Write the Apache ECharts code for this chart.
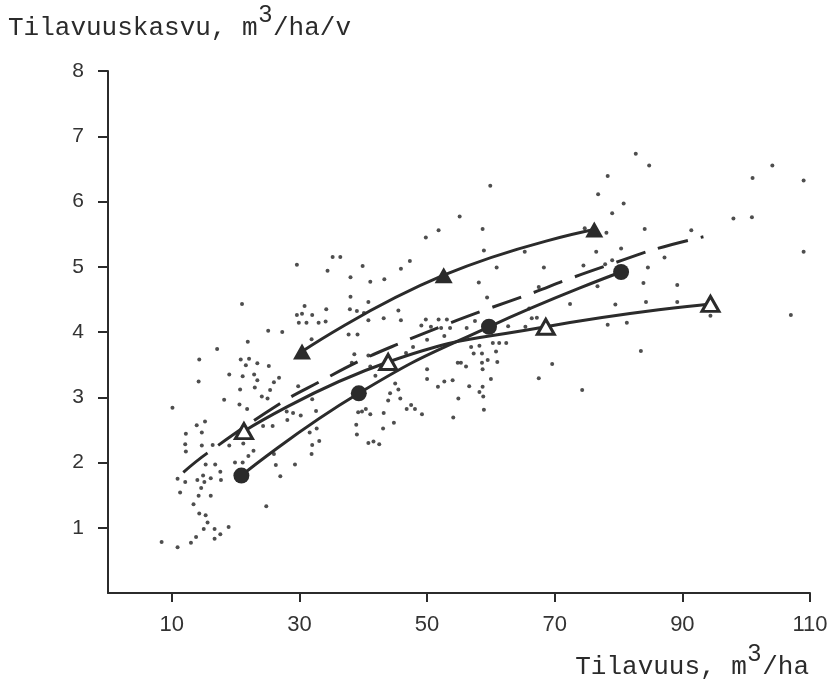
<!DOCTYPE html>
<html>
<head>
<meta charset="utf-8">
<script src="https://cdn.jsdelivr.net/npm/echarts@6/dist/echarts.min.js"></script>
<style>
  html, body { margin: 0; padding: 0; background: #ffffff; }
  #chart { width: 834px; height: 685px; }
</style>
</head>
<body>
<div id="chart"></div>
<script>
// Stand volume (m3/ha) and volume growth (m3/ha/year) of the sample plots
const plotVolume = [
  8.4, 10.9, 13.0, 13.8, 15.0, 16.7, 16.7, 17.6, 18.9, 15.6, 14.3, 15.3, 13.4, 24.8, 14.2, 16.1,
  11.3, 14.6, 15.1, 10.9, 12.1, 14.0, 14.9, 16.1, 17.7, 27.0, 17.6, 15.3, 16.8, 19.9, 21.1, 26.3,
  29.3, 26.0, 22.0, 22.8, 12.1, 12.2, 14.7, 16.4, 19.0, 21.2, 12.2, 14.7, 13.9, 15.2, 24.3, 25.8,
  28.1, 28.0, 29.0, 10.1, 20.6, 21.8, 18.2, 24.1, 25.0, 20.7, 23.0, 25.4, 26.0, 26.8, 14.2, 19.0,
  21.1, 22.9, 23.4, 14.3, 20.8, 22.1, 21.6, 23.4, 25.2, 17.1, 21.9, 25.1, 27.3, 21.0, 29.6, 29.8,
  32.0, 30.2, 32.6, 31.6, 32.7, 32.0, 33.1, 31.9, 31.9, 29.6, 30.4, 32.0, 29.9, 31.1, 33.0, 30.8,
  34.2, 34.1, 34.4, 35.2, 36.4, 39.9, 38.0, 41.1, 43.3, 38.0, 40.8, 37.9, 39.0, 40.1, 45.5, 45.9,
  43.2, 40.8, 37.7, 39.1, 38.6, 40.8, 38.2, 41.1, 41.9, 38.9, 39.0, 43.1, 44.8, 39.2, 39.8, 40.4,
  41.1, 43.2, 40.8, 41.6, 42.5, 45.0, 45.5, 44.2, 43.9, 45.8, 47.5, 46.8, 48.1, 49.2, 54.1, 58.9,
  46.7, 47.8, 50.0, 50.0, 50.0, 51.7, 52.7, 54.0, 54.9, 56.6, 58.7, 60.0, 58.2, 58.8, 54.8, 55.3,
  56.1, 58.6, 59.5, 61.0, 58.7, 56.9, 58.2, 60.3, 61.3, 62.4, 57.3, 58.6, 60.8, 52.7, 49.1, 49.8,
  50.6, 51.8, 53.1, 52.2, 53.6, 56.2, 57.5, 62.7, 65.4, 66.4, 67.2, 66.0, 67.5, 59.4, 58.1, 60.9,
  68.3, 58.9, 65.3, 47.3, 45.9, 49.8, 51.8, 58.7, 55.1, 59.9, 72.4, 69.6, 67.5, 74.3, 82.7, 84.8,
  78.3, 76.8, 80.8, 79.0, 74.7, 78.1, 84.1, 91.4, 76.5, 80.4, 79.0, 74.5, 77.9, 87.2, 84.6, 76.7,
  83.9, 89.2, 79.5, 84.3, 89.2, 78.3, 81.3, 94.4, 83.5, 101.0, 104.1, 109.0, 98.0, 100.9, 109.0, 107.0
];
const plotGrowth = [
  0.78, 0.70, 0.77, 0.86, 0.98, 0.98, 0.83, 0.90, 1.01, 1.08, 1.22, 1.19, 1.36, 1.33, 1.49, 1.49,
  1.54, 1.61, 1.70, 1.75, 1.70, 1.73, 1.80, 1.76, 1.73, 1.79, 1.86, 1.97, 1.97, 2.00, 2.00, 1.96,
  1.97, 2.13, 2.10, 2.18, 2.28, 2.17, 2.26, 2.27, 2.26, 2.29, 2.44, 2.46, 2.57, 2.63, 2.56, 2.56,
  2.65, 2.78, 2.76, 2.84, 2.89, 2.82, 2.96, 3.01, 2.98, 3.12, 3.15, 3.11, 3.23, 3.30, 3.24, 3.35,
  3.32, 3.35, 3.26, 3.58, 3.58, 3.59, 3.49, 3.52, 3.48, 3.74, 3.85, 4.02, 4.00, 4.43, 5.03, 3.17,
  2.97, 2.72, 2.79, 2.46, 2.52, 2.27, 2.33, 2.13, 3.89, 4.26, 4.28, 4.26, 4.14, 4.14, 4.14, 4.40,
  4.35, 4.16, 4.94, 5.15, 5.15, 5.01, 4.84, 4.77, 4.81, 4.54, 4.46, 4.35, 4.32, 4.29, 4.33, 4.18,
  4.21, 4.18, 3.96, 3.96, 3.66, 3.64, 3.53, 3.47, 3.33, 2.58, 2.43, 2.52, 2.61, 2.77, 2.78, 2.82,
  2.74, 2.76, 2.30, 2.32, 2.28, 3.21, 3.12, 3.06, 2.95, 2.98, 2.88, 2.82, 2.82, 2.74, 2.69, 2.81,
  3.68, 3.77, 3.88, 3.43, 3.28, 3.16, 3.24, 3.26, 2.98, 3.17, 3.16, 3.28, 3.08, 3.01, 3.53, 3.53,
  3.47, 3.53, 3.57, 3.54, 3.43, 3.77, 3.79, 3.83, 3.83, 3.83, 3.67, 3.67, 3.70, 3.94, 4.10, 4.19,
  4.08, 4.19, 4.19, 4.06, 4.06, 4.06, 4.17, 4.09, 4.08, 4.21, 4.22, 4.36, 4.69, 4.53, 4.76, 4.99,
  4.99, 5.25, 5.23, 5.09, 4.97, 5.45, 5.56, 5.58, 5.77, 6.24, 4.43, 3.51, 3.29, 3.11, 6.73, 6.55,
  6.39, 6.11, 5.97, 5.82, 5.59, 5.52, 5.58, 5.56, 5.23, 5.28, 5.10, 5.02, 5.04, 5.14, 4.99, 4.70,
  4.75, 4.72, 4.42, 4.46, 4.46, 4.11, 4.14, 4.25, 3.71, 6.36, 6.55, 6.32, 5.74, 5.76, 5.23, 4.26
];

// Growth curves (volume, growth) at the marked points
const curveFilledTriangleX = [30.4, 52.6, 76.2];
const curveFilledTriangleY = [3.70, 4.87, 5.57];
const curveCircleX = [20.9, 39.3, 59.7, 80.4];
const curveCircleY = [1.80, 3.06, 4.08, 4.92];
const curveOpenTriangleX = [21.3, 43.9, 68.6, 94.4];
const curveOpenTriangleY = [2.48, 3.54, 4.08, 4.43];

// Dashed regression curve read along its length
const regressionX = [11.8, 15.5, 27.2, 33.2, 39.5, 45.8, 52.6, 59.4, 66.3, 72.4, 79.1, 86.1, 93.3];
const regressionY = [1.85, 2.14, 2.92, 3.24, 3.56, 3.83, 4.10, 4.35, 4.59, 4.82, 5.05, 5.28, 5.46];

// Axis tick labels
const xTicks = [10, 30, 50, 70, 90, 110];
const yTicks = [1, 2, 3, 4, 5, 6, 7, 8];

const zip = (xs, ys) => xs.map((x, i) => [x, ys[i]]);

const ink = '#2b2b2b';
const titleFont = '"Liberation Mono", "DejaVu Sans Mono", monospace';
const labelFont = '"Liberation Sans", "DejaVu Sans", sans-serif';

// Axis titles with a raised "3" for the cubic metre unit
const titleRich = {
  a: { fontFamily: titleFont, fontSize: 26, fontWeight: 'normal', color: ink },
  s: { fontFamily: labelFont, fontSize: 24, fontWeight: 'normal', color: ink, padding: [0, 1, 26, 1] }
};

const chart = echarts.init(document.getElementById('chart'), null, { renderer: 'canvas' });

chart.setOption({
  backgroundColor: '#ffffff',
  animation: false,
  title: [
    {
      text: '{a|Tilavuuskasvu, m}{s|3}{a|/ha/v}',
      left: 3, top: -2,
      textStyle: { fontWeight: 'normal', rich: titleRich }
    },
    {
      text: '{a|Tilavuus, m}{s|3}{a|/ha}',
      right: 20, top: 637,
      textStyle: { fontWeight: 'normal', rich: titleRich }
    }
  ],
  grid: { left: 108, right: 24, top: 71, bottom: 92, containLabel: false },
  xAxis: {
    type: 'value',
    min: 0, max: 110,
    axisLine: { show: true, lineStyle: { color: ink, width: 2 } },
    axisTick: { show: true, length: 9, customValues: xTicks, lineStyle: { color: ink, width: 2 } },
    axisLabel: { customValues: xTicks, fontFamily: labelFont, fontSize: 22, color: '#333', margin: 21 },
    splitLine: { show: false }
  },
  yAxis: {
    type: 'value',
    min: 0, max: 8,
    axisLine: { show: true, lineStyle: { color: ink, width: 2 } },
    axisTick: { show: true, length: 10, customValues: yTicks, lineStyle: { color: ink, width: 2 } },
    axisLabel: { customValues: yTicks, fontFamily: labelFont, fontSize: 21, color: '#333', margin: 24 },
    splitLine: { show: false }
  },
  series: [
    {
      name: 'Koealat',
      type: 'scatter',
      data: zip(plotVolume, plotGrowth),
      symbol: 'circle',
      symbolSize: 4,
      itemStyle: { color: '#222' },
      z: 1
    },
    {
      name: 'Regressio',
      type: 'line',
      data: zip(regressionX, regressionY),
      smooth: 0.4,
      showSymbol: false,
      symbol: 'none',
      lineStyle: { color: ink, width: 3, type: [31, 13] },
      z: 2
    },
    {
      name: 'Kasvu A',
      type: 'line',
      data: zip(curveFilledTriangleX, curveFilledTriangleY),
      smooth: 0.5,
      symbol: 'triangle',
      symbolSize: [18, 16],
      itemStyle: { color: ink },
      lineStyle: { color: ink, width: 3 },
      z: 3
    },
    {
      name: 'Kasvu B',
      type: 'line',
      data: zip(curveCircleX, curveCircleY),
      smooth: 0.5,
      symbol: 'circle',
      symbolSize: 16,
      itemStyle: { color: ink },
      lineStyle: { color: ink, width: 3 },
      z: 3
    },
    {
      name: 'Kasvu C',
      type: 'line',
      data: zip(curveOpenTriangleX, curveOpenTriangleY),
      smooth: 0.5,
      symbol: 'triangle',
      symbolSize: [17, 15],
      itemStyle: { color: '#ffffff', borderColor: ink, borderWidth: 3 },
      lineStyle: { color: ink, width: 3 },
      z: 4
    }
  ]
});
</script>
</body>
</html>
